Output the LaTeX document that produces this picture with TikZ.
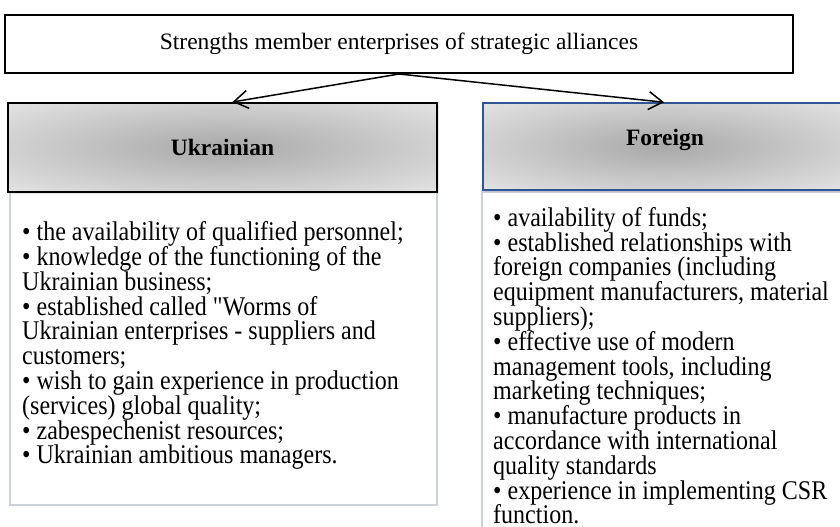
\documentclass[tikz,border=0pt]{standalone}
\usepackage{fontspec}
\usepackage{graphicx}
\setmainfont{Liberation Serif}
\usetikzlibrary{arrows.meta,shadows}

\definecolor{headdark}{gray}{0.66}
\definecolor{headlight}{gray}{0.92}
\definecolor{frameblue}{RGB}{47,85,151}
\definecolor{listframe}{RGB}{205,210,218}

\pgfdeclareradialshading{headshade}{\pgfpoint{0bp}{0bp}}{%
  color(0bp)=(headdark); color(40bp)=(headlight); color(50bp)=(headlight)}

% narrow list lines on a fixed line pitch
\newcommand{\striplist}[1]{\scalebox{0.89}[1]{\parbox[t]{460pt}{\raggedright
  \lineskiplimit=-\maxdimen\baselineskip=24.8pt #1}}}

\begin{document}
\begin{tikzpicture}[x=1pt, y=-1pt,
    topbox/.style = {draw, line width=2pt, inner sep=0pt, minimum width=788pt, minimum height=58pt,
                     font=\fontsize{23.5}{26}\selectfont},
    headbox/.style = {draw, line width=2pt, inner sep=0pt, shade, shading=headshade,
                      drop shadow={shadow xshift=2pt, shadow yshift=-2pt, opacity=.2}},
    headtext/.style = {inner sep=0pt, font=\fontsize{23.5}{26}\selectfont\bfseries},
    listbox/.style = {draw=listframe, line width=1.2pt, fill=white, inner sep=0pt},
    listtext/.style = {inner sep=0pt, anchor=north west, font=\fontsize{27}{24.8}\selectfont},
    link/.style = {-{Straight Barb[length=14pt, width=18pt]}, line width=1.5pt}]
  \path[use as bounding box, clip] (0,0) rectangle (840,527);

  % lists of strengths
  \node[listbox, minimum width=427pt, minimum height=313pt] (ukrbox) at (223.5,348.5) {};
  \node[listbox, minimum width=368pt, minimum height=348pt] (frgbox) at (666,366) {};

  \node[listtext] (ukrlist) at (22,221.5) {\striplist{%
    • the availability of qualified personnel;\\
    • knowledge of the functioning of the\\
    Ukrainian business;\\
    • established called \textquotedbl Worms of\\
    Ukrainian enterprises - suppliers and\\
    customers;\\
    • wish to gain experience in production\\
    (services) global quality;\\
    • zabespechenist resources;\\
    • Ukrainian ambitious managers.}};
  \node[listtext] (frglist) at (493,207) {\striplist{%
    • availability of funds;\\
    • established relationships with\\
    foreign companies (including\\
    equipment manufacturers, material\\
    suppliers);\\
    • effective use of modern\\
    management tools, including\\
    marketing techniques;\\
    • manufacture products in\\
    accordance with international\\
    quality standards\\
    • experience in implementing CSR\\
    function.}};

  % headers
  \node[headbox, minimum width=429pt, minimum height=89pt] (ukr) at (222.5,147.5) {};
  \node[headtext] (ukrname) at (ukr) {Ukrainian};
  \node[headbox, draw=frameblue, line width=1.5pt, minimum width=362pt, minimum height=87pt] (frg) at (664,146.5) {};
  \node[headtext] (frgname) at (665,140) {Foreign};

  % title and links
  \node[topbox] (title) at (399,44) {Strengths member enterprises of strategic alliances};
  \draw[link] (title.south) -- ([xshift=10pt]ukr.north);
  \draw[link] (title.south) -- (frg.north);
\end{tikzpicture}
\end{document}
